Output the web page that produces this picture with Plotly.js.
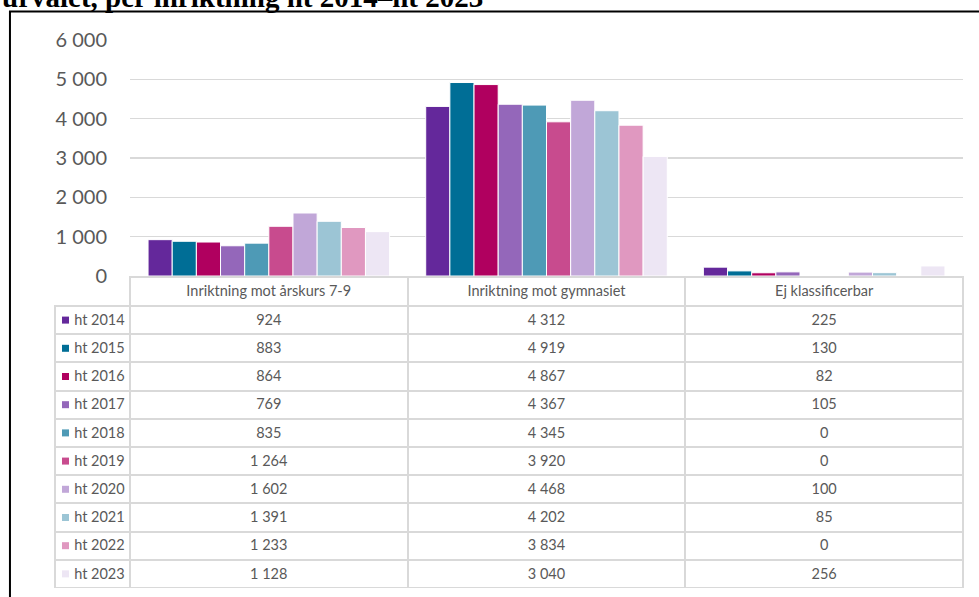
<!DOCTYPE html>
<html>
<head>
<meta charset="utf-8">
<script src="https://cdn.plot.ly/plotly-3.0.1.min.js"></script>
<style>html,body{margin:0;padding:0;background:#fff;}#chart{width:979px;height:597px;}</style>
</head>
<body>
<div id="chart"></div>
<script>
const categories = ["Inriktning mot årskurs 7-9", "Inriktning mot gymnasiet", "Ej klassificerbar"];
const seriesNames = ["ht 2014","ht 2015","ht 2016","ht 2017","ht 2018","ht 2019","ht 2020","ht 2021","ht 2022","ht 2023"];
const ht2014 = [924, 4312, 225];
const ht2015 = [883, 4919, 130];
const ht2016 = [864, 4867, 82];
const ht2017 = [769, 4367, 105];
const ht2018 = [835, 4345, 0];
const ht2019 = [1264, 3920, 0];
const ht2020 = [1602, 4468, 100];
const ht2021 = [1391, 4202, 85];
const ht2022 = [1233, 3834, 0];
const ht2023 = [1128, 3040, 256];
const seriesValues = [ht2014, ht2015, ht2016, ht2017, ht2018, ht2019, ht2020, ht2021, ht2022, ht2023];
const colors = ["#64289B","#006E96","#B0005F","#9467BA","#4E9AB6","#C84B8E","#C1A7D8","#9CC5D5","#E098C0","#EDE6F4"];
const titleText = "urvalet, per inriktning ht 2014–ht 2023";

function fmt(v){ return String(v).replace(/\B(?=(\d{3})+(?!\d))/g, "\u00a0"); }

const FONT = 'Lato, "Open Sans", sans-serif';
const GRID = '#d9d9d9';
const CLEAR = 'rgba(0,0,0,0)';

const traces = seriesNames.map((n,i)=>({
  type:'bar', name:n, x:categories, y:seriesValues[i],
  marker:{color:colors[i], line:{color:'#ffffff', width:1}},
  xaxis:'x', yaxis:'y', hoverinfo:'skip', showlegend:false
}));

// legend swatches in the table's first column
traces.push({
  type:'scatter', mode:'markers', xaxis:'x2', yaxis:'y2',
  x:seriesNames.map(()=>0.14), y:seriesNames.map((n,i)=>i),
  marker:{symbol:'square', size:7, color:colors, line:{width:0}},
  hoverinfo:'skip', showlegend:false
});

const legendCol = seriesNames.map(n=>'\u00a0\u00a0\u00a0'+n.replace(/ /g,'\u00a0'));
const dataCols = categories.map((c,j)=>seriesValues.map(s=>fmt(s[j])));

traces.push({
  type:'table',
  domain:{x:[0,1], y:[0,0.5683]},
  columnwidth:[75,278,278,278],
  header:{
    values:[[''], ...categories.map(c=>[c])],
    height:29,
    align:'center',
    fill:{color:CLEAR},
    line:{color:[CLEAR,GRID,GRID,GRID], width:2},
    font:{family:FONT, size:14.5, color:'#595959'}
  },
  cells:{
    values:[legendCol, ...dataCols],
    height:28.2,
    align:['left','center','center','center'],
    fill:{color:CLEAR},
    line:{color:GRID, width:2},
    font:{family:FONT, size:14.5, color:'#595959'}
  }
});

const layout = {
  width:979, height:597,
  margin:{l:55, r:16, t:40, b:8},
  paper_bgcolor:'#ffffff', plot_bgcolor:'rgba(0,0,0,0)',
  separators:', ',
  barmode:'group', bargap:0.13, bargroupgap:0,
  font:{family:FONT, color:'#595959'},
  xaxis:{domain:[0.0826,1], showticklabels:false, showgrid:false, zeroline:false, showline:false, ticks:'', fixedrange:true},
  yaxis:{domain:[0.5701,1], range:[0,6000], tickvals:[0,1000,2000,3000,4000,5000,6000], tickformat:',d',
         showgrid:true, gridcolor:GRID, gridwidth:1.5, zeroline:false, showline:false,
         ticks:'', ticklabelstandoff:22, tickfont:{size:20, color:'#595959'}, fixedrange:true},
  xaxis2:{domain:[0,0.0826], range:[0,1], visible:false, anchor:'y2', fixedrange:true},
  yaxis2:{domain:[0,0.5683], range:[9.536,-1.528], visible:false, anchor:'x2', fixedrange:true},
  annotations:[{
    text:'<b>'+titleText+'</b>', xref:'paper', yref:'paper', x:-0.0606, y:1.0455,
    xanchor:'left', yanchor:'bottom', showarrow:false,
    font:{family:'"Liberation Serif", "DejaVu Serif", serif', size:29, color:'#000000'}
  }],
  shapes:[{
    type:'rect', xref:'paper', yref:'paper', x0:-0.0496, x1:1.2, y0:-0.2, y1:1.0519,
    line:{color:'#000000', width:2}, fillcolor:'rgba(0,0,0,0)', layer:'above'
  }]
};

Plotly.newPlot('chart', traces, layout, {displayModeBar:false, staticPlot:true});
</script>
</body>
</html>
